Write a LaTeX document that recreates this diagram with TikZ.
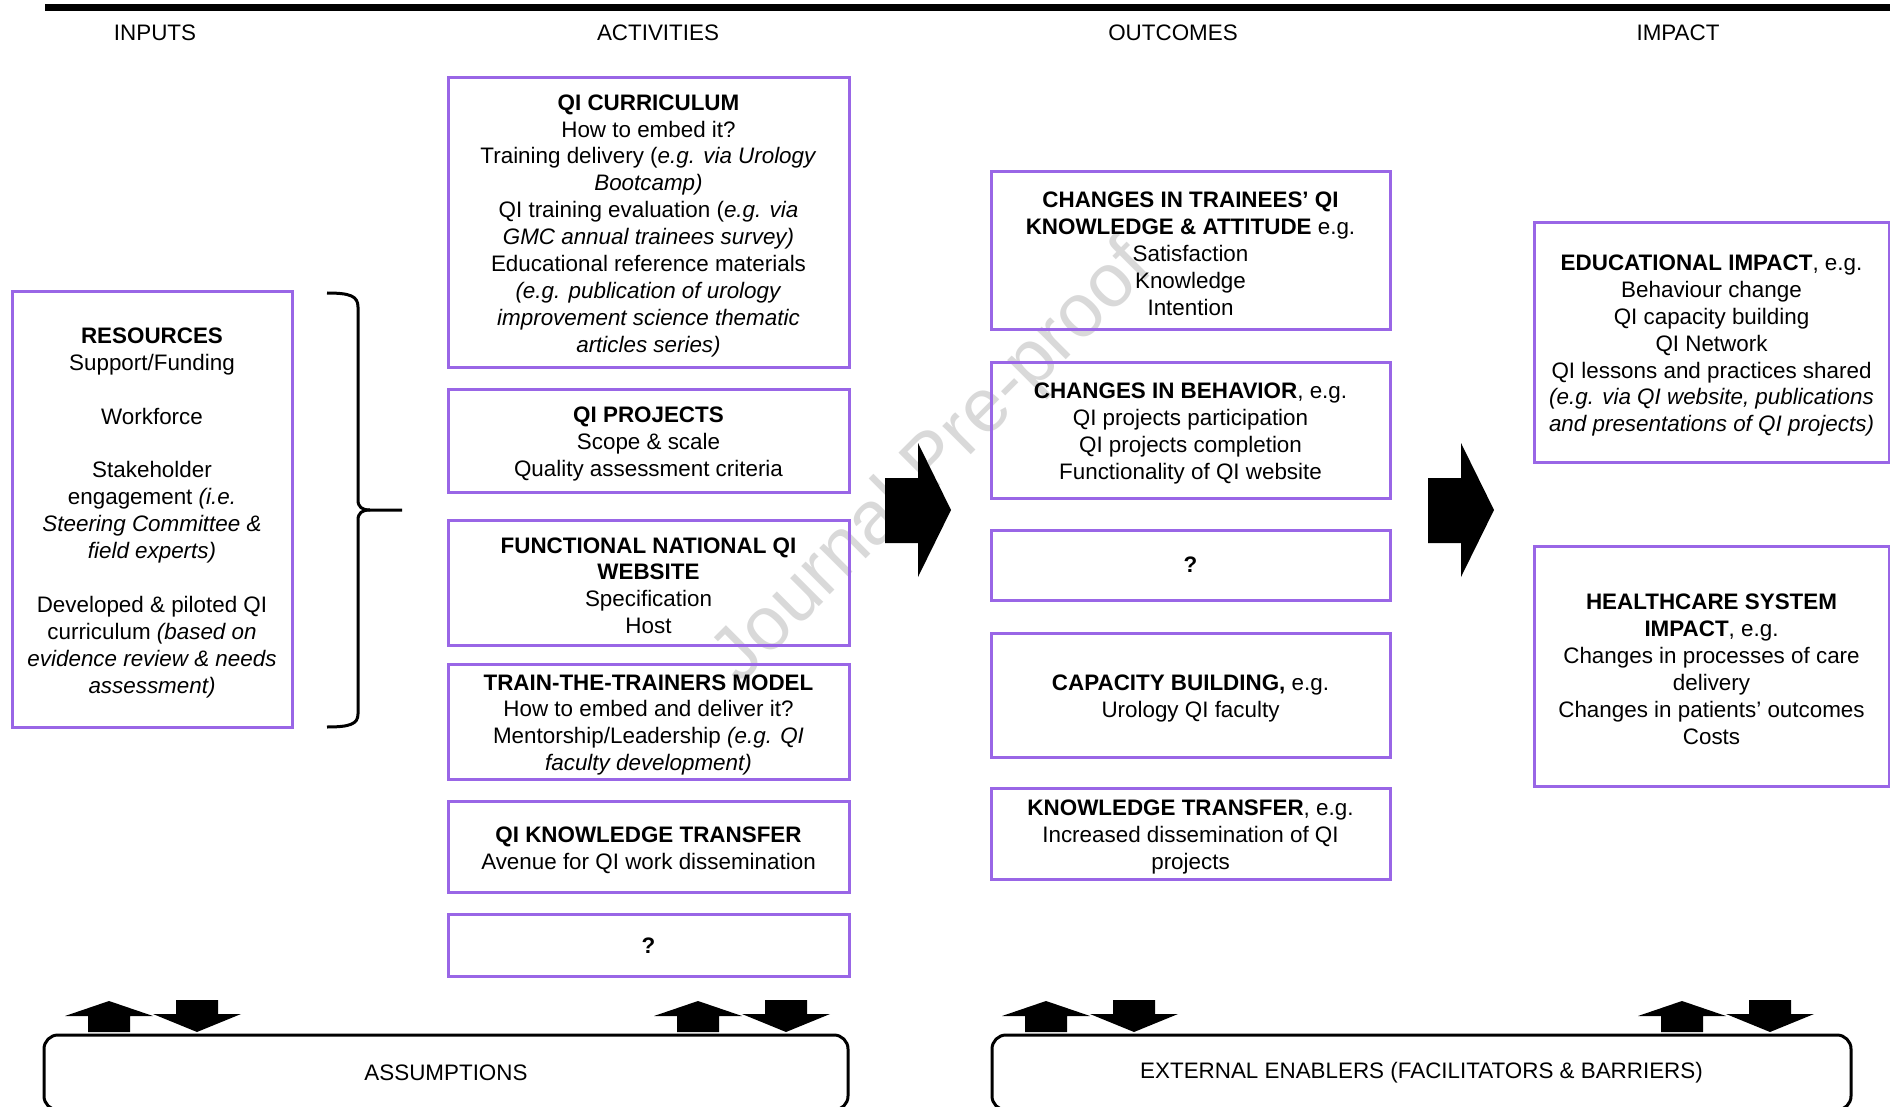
\documentclass[tikz,border=0pt]{standalone}
\usepackage{fontspec}
\setmainfont{Liberation Sans}
\usepackage{tikz}
\usetikzlibrary{positioning}

\definecolor{boxline}{RGB}{153,102,230}
\newcommand{\bodysize}{\fontsize{11.2}{13.45}\selectfont}
\newcommand{\topstrut}{\rule{0pt}{11pt}}

\begin{document}
\begin{tikzpicture}[
  x=0.5pt, y=-0.5pt,
  node distance=11pt,
  every node/.style={font=\bodysize},
  box/.style={draw=boxline, line width=1.5pt, outer sep=0pt, align=center, inner sep=2pt},
  actbox/.style={box, minimum width=200.5pt},
  outbox/.style={box, minimum width=199.5pt},
  impbox/.style={box, minimum width=177.5pt},
  basebox/.style={draw, line width=1.5pt, rounded corners=7pt},
  bigarr/.style={fill=black}
]
\useasboundingbox (0,0) rectangle (1890,1107);

% watermark
\node[rotate=45, text=black!15, font=\fontsize{38}{40}\selectfont] (wm) at (934,464) {Journal Pre-proof};

% header rule and column titles
\draw[line width=3.5pt] (45,7.5) -- (1890,7.5);
\node (hin)  at (155,33)  {INPUTS};
\node (hact) at (658,33)  {ACTIVITIES};
\node (hout) at (1173,33) {OUTCOMES};
\node (himp) at (1678,33) {IMPACT};

% inputs
\node[box, minimum width=140pt, minimum height=217.5pt] (res) at (152,509.5)
  {\topstrut\textbf{RESOURCES}\\Support/Funding\\\mbox{}\\Workforce\\\mbox{}\\Stakeholder\\engagement \textit{(i.e.}\\
   \textit{Steering Committee \&}\\\textit{field experts)}\\\mbox{}\\Developed \& piloted QI\\
   curriculum \textit{(based on}\\\textit{evidence review \& needs}\\\textit{assessment)}};
\draw[line width=1.5pt] (327,293) .. controls (350,293) and (358,296) .. (358,307) -- (358,500)
  .. controls (358,507) and (362,510) .. (370,510) -- (402,510);
\draw[line width=1.5pt] (370,510) .. controls (362,510) and (358,513) .. (358,520) -- (358,714)
  .. controls (358,724) and (350,727) .. (327,727);

% activities
\node[actbox, minimum height=144.5pt] (cur) at (648.5,222.5)
  {\topstrut\textbf{QI CURRICULUM}\\How to embed it?\\Training delivery (\textit{e.g. via Urology}\\\textit{Bootcamp)}\\
   QI training evaluation (\textit{e.g. via}\\\textit{GMC annual trainees survey)}\\Educational reference materials\\
   \textit{(e.g. publication of urology}\\\textit{improvement science thematic}\\\textit{articles series)}};
\node[actbox, minimum height=51.5pt, below=of cur] (proj)
  {\topstrut\textbf{QI PROJECTS}\\Scope \& scale\\Quality assessment criteria};
\node[actbox, minimum height=62.5pt, below=14pt of proj] (web)
  {\topstrut\textbf{FUNCTIONAL NATIONAL QI}\\\textbf{WEBSITE}\\Specification\\Host};
\node[actbox, minimum height=56pt, below=9.5pt of web] (ttt)
  {\topstrut\textbf{TRAIN-THE-TRAINERS MODEL}\\How to embed and deliver it?\\Mentorship/Leadership \textit{(e.g. QI}\\\textit{faculty development)}};
\node[actbox, minimum height=45.5pt, below=of ttt] (kt)
  {\topstrut\textbf{QI KNOWLEDGE TRANSFER}\\Avenue for QI work dissemination};
\node[actbox, minimum height=31pt, below=of kt] (qa) {\textbf{?}};

% big arrows
\foreach \dx in {0,543}
  \fill[bigarr] ({885+\dx},478) -- ({918+\dx},478) -- ({918+\dx},443) -- ({951+\dx},510)
    -- ({918+\dx},577) -- ({918+\dx},543) -- ({885+\dx},543) -- cycle;

% outcomes
\node[outbox, minimum height=78.5pt] (tr) at (1190.5,250.5)
  {\topstrut\textbf{CHANGES IN TRAINEES’ QI}\\\textbf{KNOWLEDGE \& ATTITUDE} e.g.\\Satisfaction\\Knowledge\\Intention};
\node[outbox, minimum height=68pt, below=16.5pt of tr] (beh)
  {\topstrut\textbf{CHANGES IN BEHAVIOR}, e.g.\\QI projects participation\\QI projects completion\\Functionality of QI website};
\node[outbox, minimum height=35pt, below=16pt of beh] (qo) {\textbf{?}};
\node[outbox, minimum height=62pt, below=16.5pt of qo] (cap)
  {\topstrut\textbf{CAPACITY BUILDING,} e.g.\\Urology QI faculty};
\node[outbox, minimum height=45.5pt, below=15.5pt of cap] (kto)
  {\topstrut\textbf{KNOWLEDGE TRANSFER}, e.g.\\Increased dissemination of QI\\projects};

% impact
\node[impbox, minimum height=119.5pt] (edu) at (1711.5,342.5)
  {\topstrut\textbf{EDUCATIONAL IMPACT}, e.g.\\Behaviour change\\QI capacity building\\QI Network\\QI lessons and practices shared\\
   \textit{(e.g. via QI website, publications}\\\textit{and presentations of QI projects)}};
\node[impbox, minimum height=120pt, below=42pt of edu] (hcs)
  {\topstrut\textbf{HEALTHCARE SYSTEM}\\\textbf{IMPACT}, e.g.\\Changes in processes of care\\delivery\\Changes in patients’ outcomes\\Costs};

% assumptions and enablers
\node[basebox, minimum width=402pt, minimum height=37.5pt] (assum) at (446,1072.5) {ASSUMPTIONS};
\node[basebox, minimum width=429.5pt, minimum height=37.5pt] (ext) at (1421.5,1072.5)
  {EXTERNAL ENABLERS (FACILITATORS \& BARRIERS)};
\foreach \c in {109,698,1046,1682} {
  \fill ({\c},1001) -- ({\c+44},1016) -- ({\c+21},1016) -- ({\c+21},1032)
    -- ({\c-21},1032) -- ({\c-21},1016) -- ({\c-44},1016) -- cycle;
  \fill ({\c+67},1000) -- ({\c+109},1000) -- ({\c+109},1014) -- ({\c+132},1014)
    -- ({\c+88},1032) -- ({\c+44},1014) -- ({\c+67},1014) -- cycle;
}
\end{tikzpicture}
\end{document}
